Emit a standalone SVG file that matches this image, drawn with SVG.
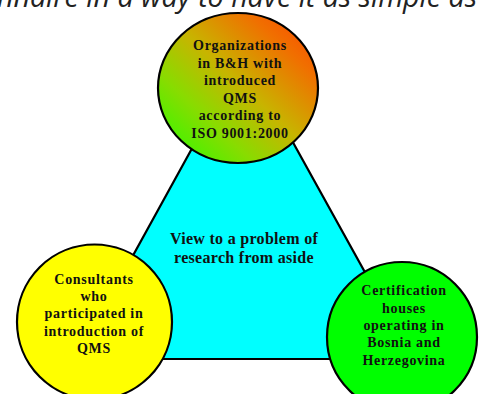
<svg xmlns="http://www.w3.org/2000/svg" width="480" height="394" viewBox="0 0 480 394">
  <defs>
    <linearGradient id="orgGrad" x1="0" y1="1" x2="1" y2="0">
      <stop offset="0" stop-color="#20ff00"/>
      <stop offset="0.3" stop-color="#88dc00"/>
      <stop offset="0.52" stop-color="#c8b400"/>
      <stop offset="0.78" stop-color="#f07000"/>
      <stop offset="1" stop-color="#ff4000"/>
    </linearGradient>
  </defs>
  <style>
    .shape { stroke: #000; stroke-width: 2.2; }
    .lbl { font-family: "Liberation Serif", "Times New Roman", serif; font-weight: bold; font-size: 14px; letter-spacing: 0.7px; fill: #111; text-anchor: middle; }
    .center { font-size: 16px; letter-spacing: 0.3px; }
    .caption { font-family: "Open Sans", "Noto Sans", sans-serif; font-style: italic; font-size: 28.6px; fill: #222; text-anchor: end; }
  </style>

  <rect width="480" height="394" fill="#fff"/>

  <!-- caption line running off the top edge -->
  <text class="caption" x="477" y="7">nnaire in a way to have it as simple as</text>

  <!-- central triangle -->
  <g id="view">
    <polygon class="shape" points="244,54 413,359 76,359" fill="#00ffff"/>
    <text class="lbl center" x="244" y="244">View to a problem of</text>
    <text class="lbl center" x="244" y="263">research from aside</text>
  </g>

  <!-- top: organizations -->
  <g id="organizations">
    <ellipse class="shape" cx="238" cy="88" rx="80" ry="75" fill="url(#orgGrad)"/>
    <text class="lbl" x="240" y="50">Organizations</text>
    <text class="lbl" x="240" y="67.5">in B&amp;H with</text>
    <text class="lbl" x="240" y="85">introduced</text>
    <text class="lbl" x="240" y="102.5">QMS</text>
    <text class="lbl" x="240" y="120">according to</text>
    <text class="lbl" x="240" y="137.5">ISO 9001:2000</text>
  </g>

  <!-- bottom left: consultants -->
  <g id="consultants">
    <circle class="shape" cx="94.5" cy="322" r="77.5" fill="#ffff00"/>
    <text class="lbl" x="94" y="284">Consultants</text>
    <text class="lbl" x="94" y="301">who</text>
    <text class="lbl" x="94" y="318">participated in</text>
    <text class="lbl" x="94" y="335.5">introduction of</text>
    <text class="lbl" x="94" y="353">QMS</text>
  </g>

  <!-- bottom right: certification houses -->
  <g id="certification">
    <circle class="shape" cx="402" cy="337" r="75" fill="#00ff00"/>
    <text class="lbl" x="404" y="295">Certification</text>
    <text class="lbl" x="404" y="312.5">houses</text>
    <text class="lbl" x="404" y="329.5">operating in</text>
    <text class="lbl" x="404" y="347">Bosnia and</text>
    <text class="lbl" x="404" y="364.5">Herzegovina</text>
  </g>
</svg>
